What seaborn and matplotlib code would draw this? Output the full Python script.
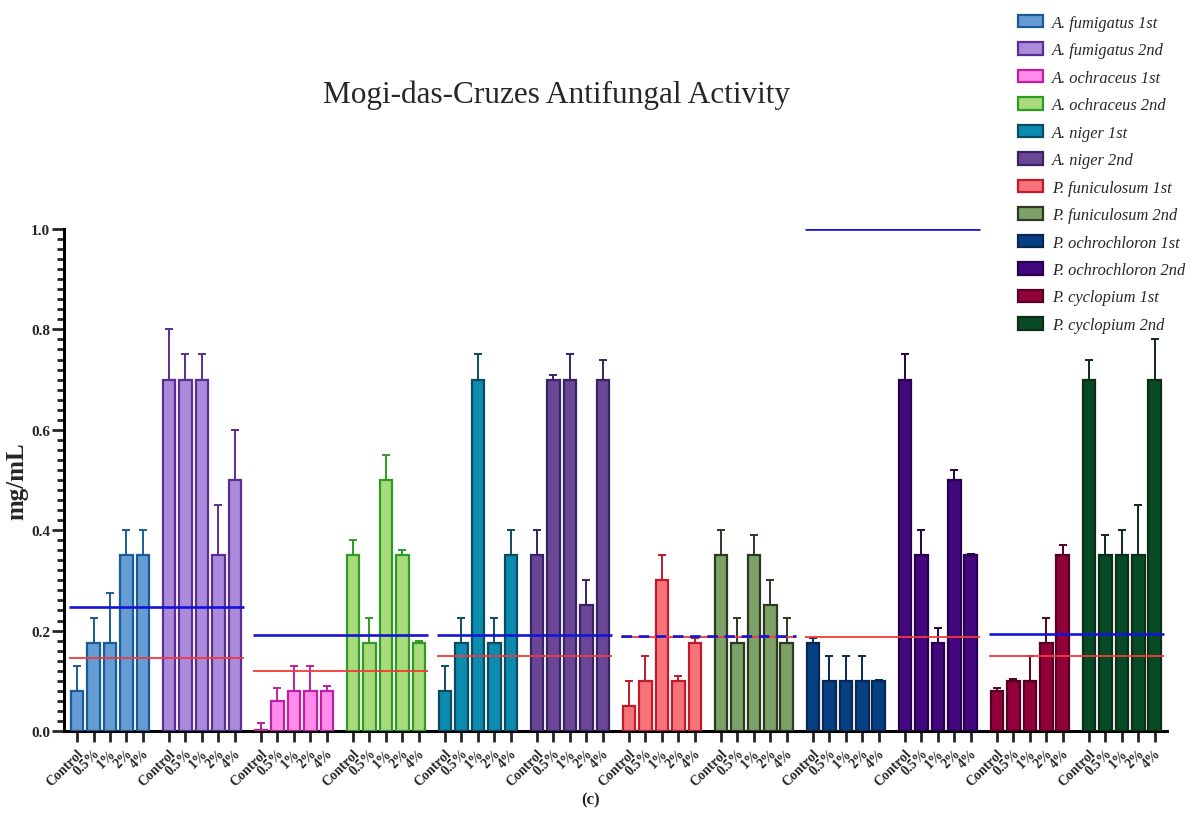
import numpy as np
import pandas as pd
import matplotlib
matplotlib.use("Agg")
import matplotlib.pyplot as plt
import seaborn as sns
from matplotlib.patches import Patch
from matplotlib.ticker import MultipleLocator

# ---------------- data ----------------
doses = ["Control", "0.5%", "1%", "2%", "4%"]
series = ["A. fumigatus 1st", "A. fumigatus 2nd", "A. ochraceus 1st", "A. ochraceus 2nd",
          "A. niger 1st", "A. niger 2nd", "P. funiculosum 1st", "P. funiculosum 2nd",
          "P. ochrochloron 1st", "P. ochrochloron 2nd", "P. cyclopium 1st", "P. cyclopium 2nd"]

# bar heights (mg/mL)
afum_1 = [0.08, 0.175, 0.175, 0.35, 0.35]
afum_2 = [0.70, 0.70, 0.70, 0.35, 0.50]
aoch_1 = [0.002, 0.06, 0.08, 0.08, 0.08]
aoch_2 = [0.35, 0.175, 0.50, 0.35, 0.175]
anig_1 = [0.08, 0.175, 0.70, 0.175, 0.35]
anig_2 = [0.35, 0.70, 0.70, 0.25, 0.70]
pfun_1 = [0.05, 0.10, 0.30, 0.10, 0.175]
pfun_2 = [0.35, 0.175, 0.35, 0.25, 0.175]
poch_1 = [0.175, 0.10, 0.10, 0.10, 0.10]
poch_2 = [0.70, 0.35, 0.175, 0.50, 0.35]
pcyc_1 = [0.08, 0.10, 0.10, 0.175, 0.35]
pcyc_2 = [0.70, 0.35, 0.35, 0.35, 0.70]

# top of error bar (mean + SD)
afum_1_top = [0.13, 0.225, 0.275, 0.40, 0.40]
afum_2_top = [0.80, 0.75, 0.75, 0.45, 0.60]
aoch_1_top = [0.015, 0.085, 0.13, 0.13, 0.09]
aoch_2_top = [0.38, 0.225, 0.55, 0.36, 0.18]
anig_1_top = [0.13, 0.225, 0.75, 0.225, 0.40]
anig_2_top = [0.40, 0.71, 0.75, 0.30, 0.74]
pfun_1_top = [0.10, 0.15, 0.35, 0.11, 0.185]
pfun_2_top = [0.40, 0.225, 0.39, 0.30, 0.225]
poch_1_top = [0.185, 0.15, 0.15, 0.15, 0.101]
poch_2_top = [0.75, 0.40, 0.205, 0.52, 0.352]
pcyc_1_top = [0.085, 0.103, 0.15, 0.225, 0.37]
pcyc_2_top = [0.74, 0.39, 0.40, 0.45, 0.78]

# reference lines per species (pairs of groups)
blue_ref = [0.247, 0.192, 0.192, 0.189, 1.0, 0.193]
red_ref = [0.145, 0.120, 0.149, 0.188, 0.188, 0.149]

fills = ["#659CD4", "#A98BD9", "#FF8BEA", "#A7DB7C", "#0B8BAD", "#6A4697",
         "#F47479", "#7DA167", "#063F82", "#43077E", "#92003B", "#064B23"]
edges = ["#1B5C98", "#5C2D94", "#BE1FA3", "#2E9B22", "#0D4B61", "#382462",
         "#C21A2A", "#2C3A24", "#0A2752", "#27004F", "#560021", "#0E2C19"]

means = [afum_1, afum_2, aoch_1, aoch_2, anig_1, anig_2,
         pfun_1, pfun_2, poch_1, poch_2, pcyc_1, pcyc_2]
tops = [afum_1_top, afum_2_top, aoch_1_top, aoch_2_top, anig_1_top, anig_2_top,
        pfun_1_top, pfun_2_top, poch_1_top, poch_2_top, pcyc_1_top, pcyc_2_top]

# ---------------- layout ----------------
sns.set_style("ticks")
plt.rcParams["font.family"] = ["Liberation Serif", "DejaVu Serif"]

fig = plt.figure(figsize=(11.95, 8.37), dpi=100)
ax = fig.add_axes([0.0535, 0.1255, 0.9231, 0.5997])

group_step = 5.6
rows = []
for g, (name, m, t) in enumerate(zip(series, means, tops)):
    for i, d in enumerate(doses):
        rows.append({"series": name, "dose": d, "pos": g * group_step + i,
                     "value": m[i], "top": t[i], "g": g})
df = pd.DataFrame(rows)

for g, name in enumerate(series):
    sub = df[df["series"] == name]
    sns.barplot(data=sub, x="pos", y="value", native_scale=True, width=0.76,
                color=fills[g], edgecolor=edges[g], linewidth=1.6,
                saturation=1, errorbar=None, ax=ax, zorder=3)
    ax.errorbar(sub["pos"], sub["value"],
                yerr=[np.zeros(len(sub)), sub["top"] - sub["value"]],
                fmt="none", ecolor=edges[g], elinewidth=1.4, capsize=2.8,
                capthick=1.4, zorder=2)

# reference lines spanning each species pair
for k in range(6):
    pair = df[df["g"].isin([2 * k, 2 * k + 1])]
    x0 = pair["pos"].min() - 0.5
    x1 = pair["pos"].max() + 0.55
    ax.hlines(red_ref[k], x0, x1, color="#F23A3A", linewidth=1.3, zorder=5)
    ls = (0, (4, 2.5)) if k == 3 else "-"
    ax.hlines(blue_ref[k], x0, x1, color="#1414D8", linewidth=1.9,
              linestyles=[ls], zorder=6)

# axes styling
ax.set_xlim(df["pos"].min() - 0.8, df["pos"].max() + 0.75)
ax.set_ylim(0, 1.0)
ax.yaxis.set_minor_locator(MultipleLocator(0.02))
ax.set_yticks(np.arange(0, 1.01, 0.2))
ax.set_yticklabels([f"{v:.1f}" for v in np.arange(0, 1.01, 0.2)],
                   fontweight="bold", fontsize=11)
ax.set_xticks(df["pos"])
ax.set_xticklabels(df["dose"], rotation=45, ha="right", va="top",
                   rotation_mode="anchor", fontweight="bold", fontsize=10)
ax.tick_params(axis="y", which="major", length=9, width=2, pad=1)
ax.tick_params(axis="y", which="minor", length=5, width=2)
ax.tick_params(axis="x", which="major", length=8, width=2, pad=3)
for s in ["left", "bottom"]:
    ax.spines[s].set_linewidth(2.2)
    ax.spines[s].set_color("black")
sns.despine(ax=ax)
ax.set_xlabel("")
ax.set_ylabel("mg/mL", fontsize=18, fontweight="bold", labelpad=2)

fig.text(0.466, 0.886, "Mogi-das-Cruzes Antifungal Activity", fontsize=22.5,
         ha="center", va="center")
fig.text(0.494, 0.044, "(c)", fontsize=12, fontweight="bold", ha="center", va="center")

handles = [Patch(facecolor=fills[g], edgecolor=edges[g], linewidth=1.6) for g in range(12)]
fig.legend(handles, series, loc="upper left", bbox_to_anchor=(0.8465, 0.989),
           frameon=False, prop={"style": "italic", "size": 11.8},
           handlelength=1.5, handleheight=0.8, handletextpad=0.55,
           labelspacing=0.70, borderaxespad=0)

fig.savefig("out.png", dpi=100)
